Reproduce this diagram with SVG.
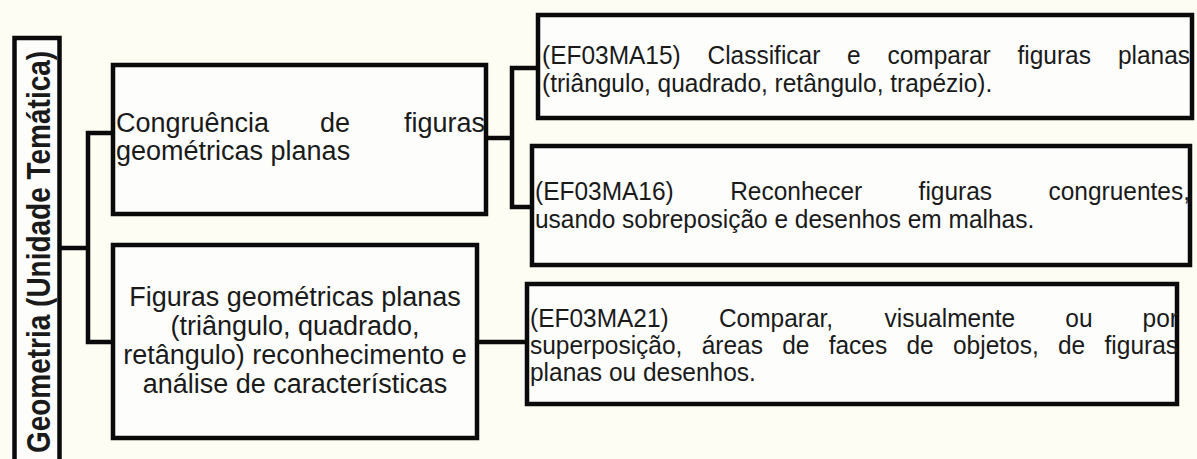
<svg xmlns="http://www.w3.org/2000/svg" width="1197" height="459" viewBox="0 0 1197 459">
<style>
.bg{fill:#fdfdf3}
.box{fill:#fdfdfc;stroke:#0a0a0a;stroke-width:4.5}
.con{fill:none;stroke:#0a0a0a;stroke-width:4.5}
.t{font-family:"Liberation Sans",Arial,sans-serif;font-size:27px;fill:#1a1a1a}
.r{font-family:"Liberation Sans",Arial,sans-serif;font-size:25.5px;fill:#1a1a1a}
.v{font-family:"Liberation Sans",Arial,sans-serif;font-size:28px;font-weight:bold;fill:#1a1a1a}
.e{text-anchor:end}
.m{text-anchor:middle}
</style>
<rect class="bg" x="0" y="0" width="1197" height="459"/>
<g id="connectors">
<polyline class="con" points="61,248 88,248"/>
<polyline class="con" points="111,133 88,133 88,342 111,342"/>
<polyline class="con" points="487,138 512,138"/>
<polyline class="con" points="537,68 512,68 512,207 532,207"/>
<polyline class="con" points="478,342 527,342"/>
</g>
<g id="tema">
<rect class="box" x="14.5" y="38" width="45" height="440"/>
<text class="v m" transform="translate(50,252) scale(1.2,1) rotate(-90)" x="0" y="0">Geometria (Unidade Temática)</text>
</g>
<g id="congruencia">
<rect class="box" x="113" y="65" width="373" height="149"/>
<text class="t" x="116" y="132">Congruência</text>
<text class="t m" x="335" y="132">de</text>
<text class="t e" x="485" y="132">figuras</text>
<text class="t" x="116" y="160">geométricas planas</text>
</g>
<g id="figuras">
<rect class="box" x="113" y="245" width="364" height="193"/>
<text class="t m" x="295" y="306">Figuras geométricas planas</text>
<text class="t m" x="295" y="335">(triângulo, quadrado,</text>
<text class="t m" x="295" y="364">retângulo) reconhecimento e</text>
<text class="t m" x="295" y="393">análise de características</text>
</g>
<g id="ef03ma15">
<rect class="box" x="538" y="15" width="654" height="103"/>
<text class="r" transform="translate(542,64) scale(0.96,1)">(EF03MA15)</text>
<text class="r" transform="translate(707.5,64) scale(0.96,1)">Classificar</text>
<text class="r" transform="translate(847.1,64) scale(0.96,1)">e</text>
<text class="r" transform="translate(887.4,64) scale(0.96,1)">comparar</text>
<text class="r" transform="translate(1017.5,64) scale(0.96,1)">figuras</text>
<text class="r e" transform="translate(1190,64) scale(0.96,1)">planas</text>
<text class="r" transform="translate(542,92) scale(0.96,1)">(triângulo, quadrado, retângulo, trapézio).</text>
</g>
<g id="ef03ma16">
<rect class="box" x="532" y="146" width="658" height="119"/>
<text class="r" transform="translate(535,200) scale(0.96,1)">(EF03MA16)</text>
<text class="r" transform="translate(730.2,200) scale(0.96,1)">Reconhecer</text>
<text class="r" transform="translate(918.6,200) scale(0.96,1)">figuras</text>
<text class="r e" transform="translate(1190,200) scale(0.96,1)">congruentes,</text>
<text class="r" transform="translate(535,228) scale(0.96,1)">usando sobreposição e desenhos em malhas.</text>
</g>
<g id="ef03ma21">
<rect class="box" x="527" y="284" width="650" height="120"/>
<text class="r" transform="translate(530,327) scale(0.96,1)">(EF03MA21)</text>
<text class="r" transform="translate(718.9,327) scale(0.96,1)">Comparar,</text>
<text class="r" transform="translate(884.6,327) scale(0.96,1)">visualmente</text>
<text class="r" transform="translate(1065.3,327) scale(0.96,1)">ou</text>
<text class="r e" transform="translate(1178,327) scale(0.96,1)">por</text>
<text class="r" transform="translate(530,354) scale(0.96,1)">superposição,</text>
<text class="r" transform="translate(701.7,354) scale(0.96,1)">áreas</text>
<text class="r" transform="translate(782.2,354) scale(0.96,1)">de</text>
<text class="r" transform="translate(828.7,354) scale(0.96,1)">faces</text>
<text class="r" transform="translate(906.5,354) scale(0.96,1)">de</text>
<text class="r" transform="translate(953,354) scale(0.96,1)">objetos,</text>
<text class="r" transform="translate(1058,354) scale(0.96,1)">de</text>
<text class="r e" transform="translate(1178,354) scale(0.96,1)">figuras</text>
<text class="r" transform="translate(530,381) scale(0.96,1)">planas ou desenhos.</text>
</g>
</svg>
